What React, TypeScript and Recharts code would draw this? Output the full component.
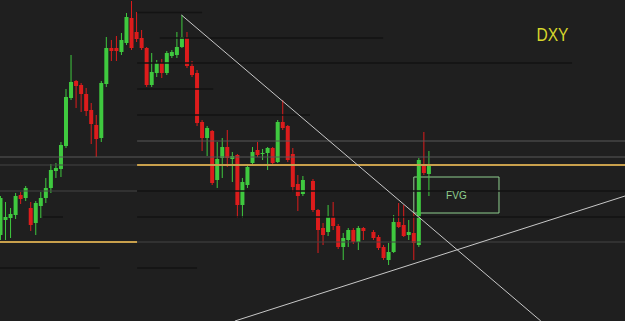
import { ComposedChart, Bar, XAxis, YAxis, ReferenceLine, ReferenceArea } from "recharts";

// slot index of each candle (gaps = no visible candle)
const slots = [
  0, 1, 2, 3, 4, 5, 6, 7, 8, 9, 10, 11, 12, 13, 14, 15, 16, 17, 18, 19,
  20, 21, 22, 23, 24, 25, 26, 27, 28, 29, 30, 31, 32, 33, 34, 35, 36, 37, 38, 39,
  40, 41, 42, 43, 44, 45, 46, 47, 48, 49, 50, 51, 52, 53, 54, 55, 56, 57, 58, 59,
  60, 62, 63, 64, 65, 66, 67, 68, 69, 70, 71, 72, 74, 75, 76, 77, 78, 79, 80, 81,
  82, 83, 84, 85,
];

const opens = [
  102.65, 102.8, 102.82, 102.85, 103.05, 103.02, 102.92, 102.77, 102.94, 103.02,
  103.12, 103.29, 103.31, 103.54, 104.02, 104.19, 104.15, 104.06, 103.9, 103.75,
  103.62, 104.16, 104.52, 104.52, 104.48, 104.57, 104.82, 104.68, 104.62, 104.52,
  104.15, 104.27, 104.37, 104.27, 104.44, 104.45, 104.53, 104.62, 104.34, 104.27,
  103.78, 103.62, 103.69, 103.2, 103.42, 103.53, 103.41, 103.45, 102.95, 103.15,
  103.37, 103.5, 103.46, 103.47, 103.52, 103.38, 103.78, 103.74, 103.46, 103.16,
  103.06, 103.19, 102.9, 102.72, 102.68, 102.83, 102.74, 102.53, 102.6, 102.7,
  102.58, 102.72, 102.68, 102.63, 102.53, 102.4, 102.48, 102.78, 102.75, 102.65,
  102.67, 102.55, 103.36, 103.26,
];

const closes = [
  103.02, 102.83, 102.86, 103.04, 103.01, 103.12, 102.75, 102.97, 103.02, 103.12,
  103.3, 103.32, 103.55, 104.03, 104.18, 104.14, 104.06, 103.89, 103.76, 103.61,
  104.17, 104.52, 104.49, 104.49, 104.6, 104.83, 104.52, 104.61, 104.52, 104.15,
  104.28, 104.37, 104.27, 104.47, 104.48, 104.53, 104.63, 104.34, 104.25, 103.77,
  103.62, 103.72, 103.17, 103.41, 103.53, 103.42, 103.44, 102.95, 103.18, 103.33,
  103.48, 103.45, 103.47, 103.52, 103.37, 103.78, 103.72, 103.4, 103.13, 103.04,
  103.2, 102.9, 102.7, 102.65, 102.83, 102.74, 102.53, 102.62, 102.7, 102.58,
  102.72, 102.69, 102.62, 102.52, 102.42, 102.48, 102.78, 102.73, 102.64, 102.68,
  102.57, 103.4, 103.27, 103.35,
];

const highs = [
  103.04, 102.98, 102.92, 103.07, 103.08, 103.14, 102.98, 102.99, 103.08, 103.22,
  103.36, 103.37, 103.58, 104.11, 104.45, 104.2, 104.17, 104.12, 103.97, 103.85,
  104.19, 104.63, 104.6, 104.64, 104.67, 104.87, 104.99, 104.88, 104.7, 104.53,
  104.47, 104.4, 104.41, 104.49, 104.5, 104.68, 104.85, 104.68, 104.39, 104.3,
  103.8, 103.74, 103.7, 103.58, 103.62, 103.7, 103.48, 103.46, 103.22, 103.34,
  103.53, 103.58, 103.51, 103.53, 103.53, 103.8, 104.0, 103.75, 103.52, 103.25,
  103.24, 103.21, 102.91, 102.77, 102.95, 102.98, 102.76, 102.67, 102.72, 102.72,
  102.74, 102.73, 102.7, 102.65, 102.55, 102.57, 102.85, 102.97, 102.95, 102.8,
  102.87, 103.42, 103.68, 103.49,
];

const lows = [
  102.6, 102.6, 102.62, 102.81, 102.96, 102.99, 102.69, 102.65, 102.82, 102.97,
  103.07, 103.22, 103.23, 103.52, 104.0, 103.92, 103.88, 103.84, 103.56, 103.43,
  103.58, 104.13, 104.39, 104.39, 104.45, 104.55, 104.5, 104.58, 104.5, 104.13,
  104.13, 104.23, 104.22, 104.25, 104.42, 104.42, 104.52, 104.32, 104.23, 103.74,
  103.49, 103.44, 103.15, 103.12, 103.22, 103.33, 103.18, 102.82, 102.82, 103.12,
  103.34, 103.43, 103.4, 103.3, 103.35, 103.37, 103.7, 103.38, 103.08, 102.89,
  103.04, 102.88, 102.47, 102.55, 102.64, 102.7, 102.51, 102.4, 102.53, 102.56,
  102.5, 102.6, 102.6, 102.5, 102.4, 102.35, 102.47, 102.72, 102.63, 102.6,
  102.4, 102.53, 103.25, 103.04,
];

// horizontal levels: price, from slot, to slot, kind
const levelPrices = [104.875, 104.62, 104.37, 104.11, 103.85, 103.59, 103.43, 103.35, 103.35, 103.09, 103.09, 102.83, 102.83, 102.58, 102.58, 102.32, 102.32];
const levelFrom = [27.2, 31.7, 27.2, 27.2, 27.2, 27.2, 0, 0, 27.2, 0, 27.2, 8.5, 27.2, 0, 27.2, 0, 27.2];
const levelTo = [40.1, 76, 113.5, 42.3, 61.5, 124, 124, 27.2, 124, 27.2, 124, 12.5, 124, 27.2, 124, 19.8, 39.1];
const levelKind = ["dark", "dark", "dark", "dark", "dark", "light", "light", "grey", "gold", "grey", "dark", "dark", "dark", "gold", "grey", "dark", "dark"];

// trend lines: [slot, price] pairs
const downTrend = [{ x: 36, y: 104.85 }, { x: 107.3, y: 101.79 }];
const upTrend = [{ x: 46.6, y: 101.79 }, { x: 124, y: 103.04 }];

// fair value gap box
const fvgSlots = [82.1, 99];
const fvgPrices = [102.87, 103.23];

const data = slots.map((t, i) => ({
  t,
  open: opens[i],
  close: closes[i],
  high: highs[i],
  low: lows[i],
  range: [lows[i], highs[i]],
}));

const GREEN = "#3fc93f";
const RED = "#dd1c1c";
const kindStyle: Record<string, { stroke: string; w: number }> = {
  dark: { stroke: "#131313", w: 1.5 },
  light: { stroke: "#585858", w: 1 },
  grey: { stroke: "#444444", w: 1.2 },
  gold: { stroke: "#c9a04c", w: 2 },
};

const Candle = (props: any) => {
  const { x, y, width, height, payload } = props;
  if (x == null || y == null) return null;
  const top = Math.min(y, y + height);
  const h = Math.abs(height);
  const { open, close, high, low } = payload;
  const color = close >= open ? GREEN : RED;
  const k = h / (high - low);
  const bodyTop = top + (high - Math.max(open, close)) * k;
  const bodyBot = top + (high - Math.min(open, close)) * k;
  const cx = x + width / 2;
  return (
    <g>
      <line x1={cx} x2={cx} y1={top} y2={top + h} stroke={color} strokeWidth={1} />
      <rect x={x} y={bodyTop} width={width} height={Math.max(1, bodyBot - bodyTop)} fill={color} />
    </g>
  );
};

export default function App() {
  return (
    <div style={{ position: "fixed", left: 0, top: 0, width: 625, height: 321, background: "#1f1f1f" }}>
      <ComposedChart width={625} height={321} data={data} margin={{ top: 0, right: 0, bottom: 0, left: 0 }}>
        <XAxis type="number" dataKey="t" domain={[0, 124]} hide allowDataOverflow />
        <YAxis type="number" domain={[101.79, 105]} hide allowDataOverflow />
        {levelPrices.map((p, i) => (
          <ReferenceLine
            key={i}
            segment={[{ x: levelFrom[i], y: p }, { x: levelTo[i], y: p }]}
            stroke={kindStyle[levelKind[i]].stroke}
            strokeWidth={kindStyle[levelKind[i]].w}
            ifOverflow="visible"
          />
        ))}
        <ReferenceArea
          x1={fvgSlots[0]}
          x2={fvgSlots[1]}
          y1={fvgPrices[0]}
          y2={fvgPrices[1]}
          fill="none"
          fillOpacity={0}
          stroke="#8fcf8f"
          strokeWidth={1}
          ifOverflow="visible"
          label={{ value: "FVG", position: "center", fill: "#8fcf8f", fontSize: 10, fontFamily: "Liberation Sans" }}
        />
        <Bar dataKey="range" barSize={4} shape={Candle} isAnimationActive={false} />
        <ReferenceLine segment={downTrend} stroke="#c8c8c8" strokeWidth={1} ifOverflow="visible" />
        <ReferenceLine segment={upTrend} stroke="#c8c8c8" strokeWidth={1} ifOverflow="visible" />
      </ComposedChart>
      <svg width={625} height={321} style={{ position: "absolute", left: 0, top: 0, pointerEvents: "none" }}>
        <text x={536.5} y={40.5} fill="#d6d62c" fontSize={19} fontFamily="Liberation Sans" textLength={32} lengthAdjust="spacingAndGlyphs">
          DXY
        </text>
      </svg>
    </div>
  );
}
